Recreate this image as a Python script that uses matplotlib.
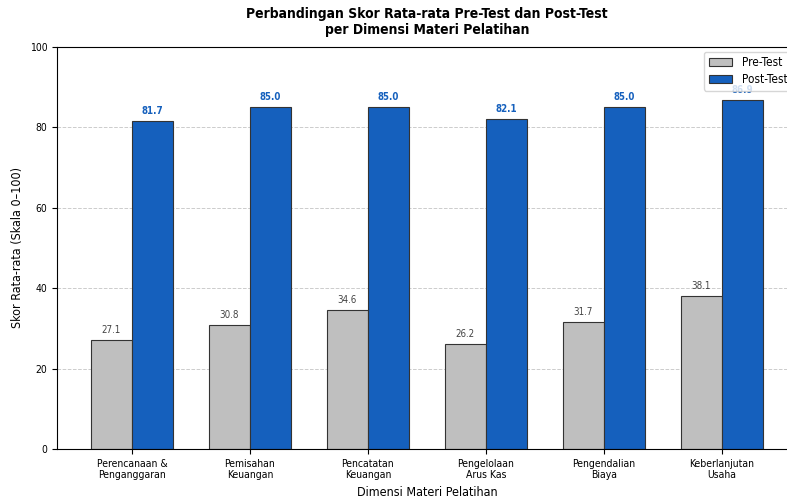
import matplotlib.pyplot as plt
import numpy as np

categories = ['Perencanaan &\nPenganggaran', 'Pemisahan\nKeuangan', 'Pencatatan\nKeuangan',
              'Pengelolaan\nArus Kas', 'Pengendalian\nBiaya', 'Keberlanjutan\nUsaha']
pre_test = [27.1, 30.8, 34.6, 26.2, 31.7, 38.1]
post_test = [81.7, 85.0, 85.0, 82.1, 85.0, 86.9]

plt.rcParams['font.stretch'] = 'condensed'

x = np.arange(len(categories))
w = 0.35

fig = plt.figure(figsize=(7.87, 5.03), dpi=100)
ax = fig.add_axes([0.0724, 0.1074, 0.940, 0.7992])

b1 = ax.bar(x - w/2, pre_test, w, color='#bfbfbf', edgecolor='#333333', linewidth=0.8, label='Pre-Test')
b2 = ax.bar(x + w/2, post_test, w, color='#1560bd', edgecolor='#333333', linewidth=0.8, label='Post-Test')

for r, v in zip(b1, pre_test):
    ax.text(r.get_x() + r.get_width()/2, v + 1.2, f'{v:.1f}', ha='center', va='bottom',
            fontsize=7, color='#444444')
for r, v in zip(b2, post_test):
    ax.text(r.get_x() + r.get_width()/2, v + 1.2, f'{v:.1f}', ha='center', va='bottom',
            fontsize=7, color='#1560bd', fontweight='bold')

ax.set_ylim(0, 100)
ax.set_xticks(x)
ax.set_xticklabels(categories, fontsize=7.5)
ax.tick_params(axis='y', labelsize=7.5)
ax.yaxis.grid(True, linestyle='--', color='#cccccc', linewidth=0.7)
ax.set_axisbelow(True)
ax.spines['right'].set_visible(False)
ax.set_ylabel('Skor Rata-rata (Skala 0\u2013100)', fontsize=9)
ax.set_xlabel('Dimensi Materi Pelatihan', fontsize=9)
ax.set_title('Perbandingan Skor Rata-rata Pre-Test dan Post-Test\nper Dimensi Materi Pelatihan',
             fontsize=10, fontweight='bold', pad=9)
ax.legend(loc='upper right', fontsize=8.5, labelspacing=0.3, borderaxespad=0.4)

plt.savefig('out.png', dpi=100)
